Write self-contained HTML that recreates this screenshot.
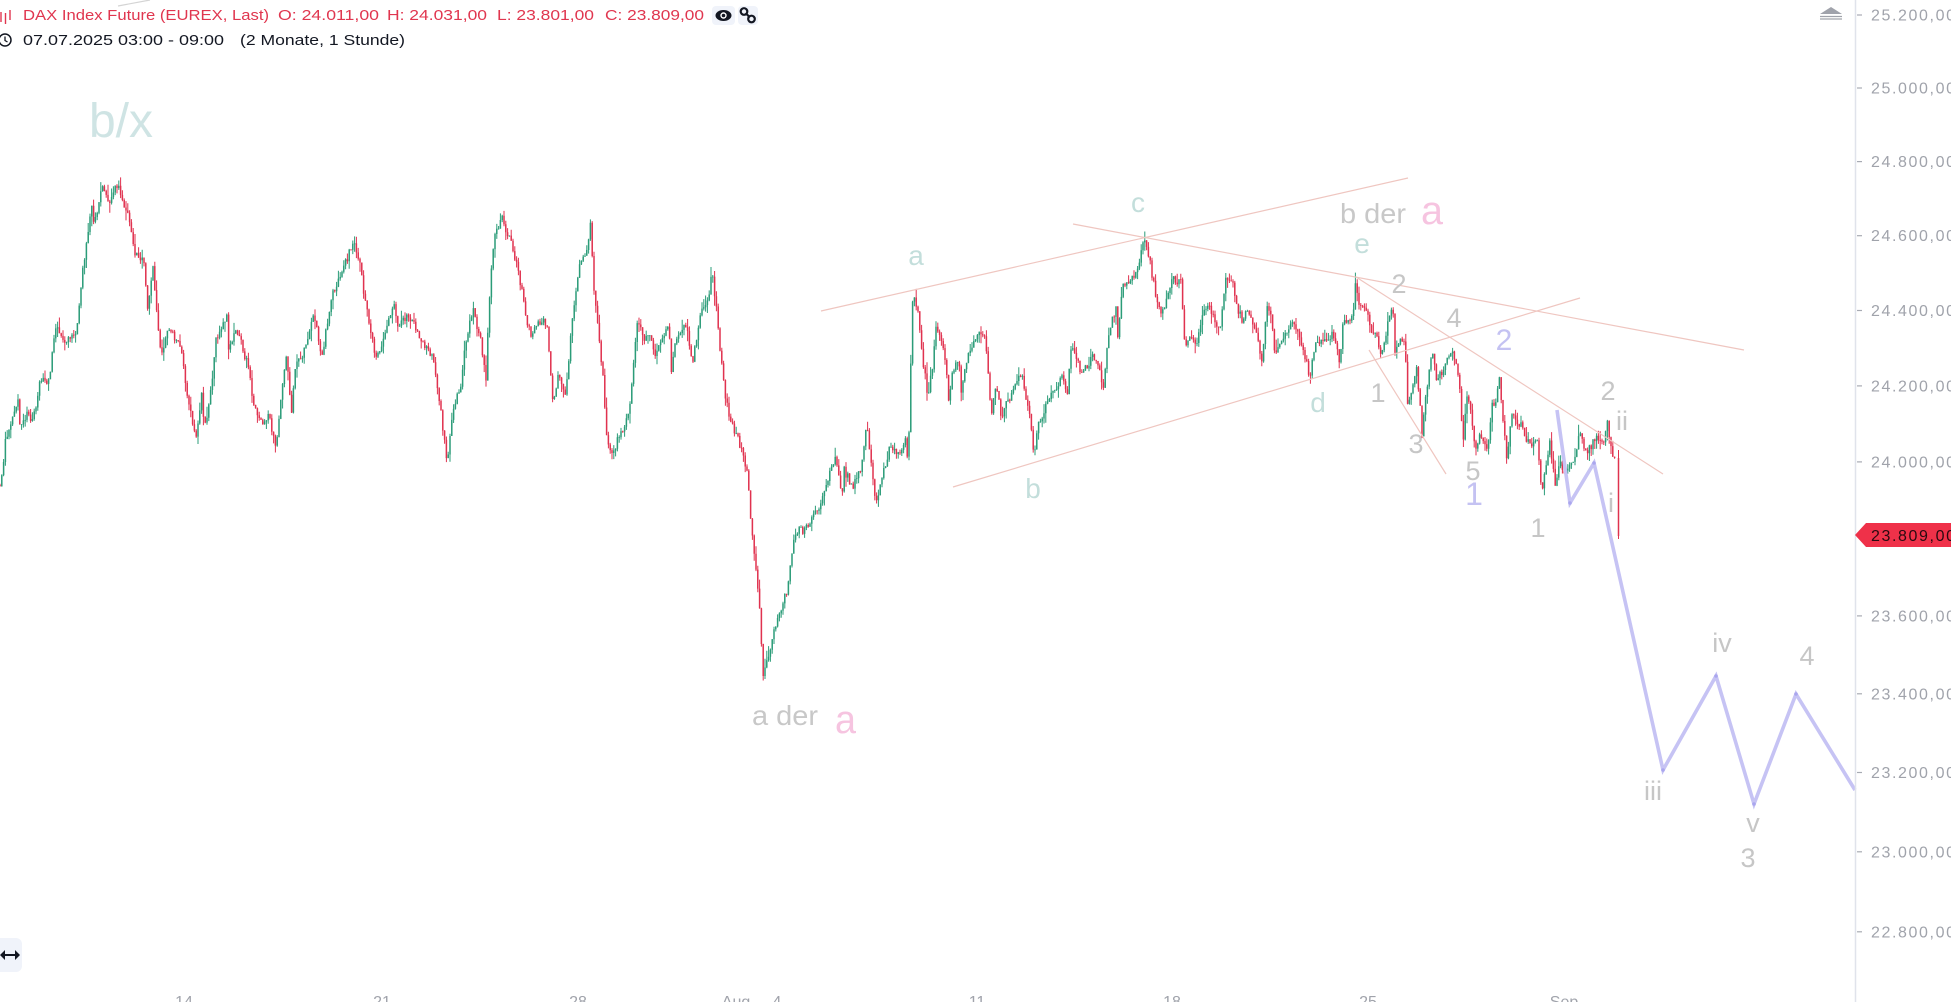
<!DOCTYPE html>
<html><head><meta charset="utf-8">
<style>
html,body{margin:0;padding:0;background:#fff;width:1951px;height:1002px;overflow:hidden;}
svg{display:block;font-family:"Liberation Sans",Arial,sans-serif;}
</style></head><body>
<svg id="s" width="1951" height="1002" viewBox="0 0 1951 1002" xmlns="http://www.w3.org/2000/svg">
<rect width="1951" height="1002" fill="#fff"/>
<g id="candles"></g>

<!-- trend lines -->
<g stroke="#efc6c0" stroke-width="1.2" fill="none">
<line x1="821" y1="311" x2="1408" y2="178"/>
<line x1="953" y1="487" x2="1580" y2="298"/>
<line x1="1073" y1="224" x2="1744" y2="350"/>
<line x1="1356" y1="277" x2="1663" y2="474"/>
<line x1="1369" y1="350" x2="1446" y2="474"/>
</g>
<line x1="118" y1="6" x2="150" y2="0" stroke="#d4d4d4" stroke-width="1.2"/>

<!-- lavender projection -->
<polyline points="1557,410 1570,503 1594,463 1663,770 1716,676 1754,804 1796,694 1855,790" fill="none" stroke="#c6c3f4" stroke-width="3.6" stroke-linejoin="miter"/>
<g fill="#aaa6ee">
<circle cx="1570" cy="503" r="1.8"/><circle cx="1594" cy="463" r="1.8"/><circle cx="1663" cy="770" r="1.8"/><circle cx="1716" cy="676" r="1.8"/><circle cx="1754" cy="804" r="1.8"/><circle cx="1796" cy="694" r="1.8"/>
</g>

<!-- annotation labels -->
<text x="89" y="137" font-size="48" fill="#cfe4e4" textLength="64" lengthAdjust="spacingAndGlyphs">b/x</text>
<g fill="#c3dedb" font-size="28" text-anchor="middle">
<text x="916" y="265">a</text>
<text x="1138" y="212">c</text>
<text x="1033" y="498">b</text>
<text x="1362" y="253">e</text>
<text x="1318" y="412">d</text>
</g>
<g fill="#c6c6c6" font-size="27" text-anchor="middle">
<text x="1399" y="293">2</text>
<text x="1454" y="327">4</text>
<text x="1378" y="402">1</text>
<text x="1416" y="453">3</text>
<text x="1473" y="480">5</text>
<text x="1538" y="537">1</text>
<text x="1608" y="400">2</text>
<text x="1622" y="430">ii</text>
<text x="1611" y="512">i</text>
<text x="1653" y="800">iii</text>
<text x="1722" y="652">iv</text>
<text x="1753" y="832">v</text>
<text x="1748" y="867">3</text>
<text x="1807" y="665">4</text>
</g>
<g fill="#c4c2f2" text-anchor="middle">
<text x="1504" y="350" font-size="30">2</text>
<text x="1474" y="505" font-size="32">1</text>
</g>
<text x="752" y="725" font-size="28" fill="#c8c8c8" textLength="66" lengthAdjust="spacingAndGlyphs">a der</text>
<text x="835" y="733" font-size="40" fill="#f6c4e0" textLength="21" lengthAdjust="spacingAndGlyphs">a</text>
<text x="1340" y="223" font-size="28" fill="#c8c8c8" textLength="66" lengthAdjust="spacingAndGlyphs">b der</text>
<text x="1421" y="224" font-size="40" fill="#f6c4e0" textLength="22" lengthAdjust="spacingAndGlyphs">a</text>

<!-- header -->
<g stroke="#e0364f" stroke-width="1.4">
<line x1="1" y1="12" x2="1" y2="22"/>
<line x1="5.5" y1="13" x2="5.5" y2="24"/>
<line x1="10" y1="10" x2="10" y2="20"/>
</g>
<g fill="#e0364f" font-size="15">
<text x="23" y="20" textLength="246" lengthAdjust="spacingAndGlyphs">DAX Index Future (EUREX, Last)</text>
<text x="278" y="20" textLength="101" lengthAdjust="spacingAndGlyphs">O: 24.011,00</text>
<text x="387" y="20" textLength="100" lengthAdjust="spacingAndGlyphs">H: 24.031,00</text>
<text x="497" y="20" textLength="97" lengthAdjust="spacingAndGlyphs">L: 23.801,00</text>
<text x="605" y="20" textLength="99" lengthAdjust="spacingAndGlyphs">C: 23.809,00</text>
</g>
<rect x="712" y="6" width="23" height="19" rx="4" fill="#f0f3fa"/>
<ellipse cx="723.5" cy="15.5" rx="8" ry="5.5" fill="#131722"/>
<circle cx="723.5" cy="15.5" r="3.2" fill="#fff"/>
<circle cx="723.5" cy="15.5" r="1.8" fill="#131722"/>
<rect x="738" y="6" width="20" height="19" rx="4" fill="#f0f3fa"/>
<g fill="none" stroke="#131722" stroke-width="2.2">
<circle cx="744" cy="11.5" r="3.3"/><circle cx="751.5" cy="19" r="3.3"/>
<line x1="746" y1="13.5" x2="749.5" y2="17"/>
</g>
<circle cx="5" cy="40" r="6" fill="none" stroke="#131722" stroke-width="1.5"/>
<path d="M5 36.5V40.5L7.5 42" fill="none" stroke="#131722" stroke-width="1.3"/>
<g fill="#131722" font-size="15">
<text x="23" y="45" textLength="201" lengthAdjust="spacingAndGlyphs">07.07.2025 03:00 - 09:00</text>
<text x="240" y="45" textLength="165" lengthAdjust="spacingAndGlyphs">(2 Monate, 1 Stunde)</text>
</g>

<!-- bottom-left button -->
<rect x="-12" y="938" width="34" height="34" rx="6" fill="#f0f3fa"/>
<path d="M1 955H19" stroke="#131722" stroke-width="2"/>
<path d="M0 955L5 950V960Z M20 955L15 950V960Z" fill="#131722"/>

<!-- y axis -->
<line x1="1855.5" y1="0" x2="1855.5" y2="1002" stroke="#e0e3eb" stroke-width="1.5"/>
<g id="yaxis" fill="#a0a3ab" font-size="16" letter-spacing="1.6"></g>
<path d="M1820 14L1831 7L1842 14Z" fill="#a0a3ab"/>
<line x1="1820" y1="16.5" x2="1842" y2="16.5" stroke="#a0a3ab" stroke-width="1.2"/>
<line x1="1820" y1="19" x2="1842" y2="19" stroke="#a0a3ab" stroke-width="1.2"/>
<polygon points="1855,535 1866,523 1951,523 1951,547 1866,547" fill="#ef3149"/>
<text x="1871" y="541" font-size="16" letter-spacing="1.6" fill="#2a0a10">23.809,00</text>

<!-- x axis -->
<g fill="#a0a3ab" font-size="16" text-anchor="middle">
<text x="184" y="1007">14</text>
<text x="382" y="1007">21</text>
<text x="578" y="1007">28</text>
<text x="736" y="1007">Aug</text>
<text x="777" y="1007">4</text>
<text x="977" y="1007">11</text>
<text x="1172" y="1007">18</text>
<text x="1368" y="1007">25</text>
<text x="1564" y="1007">Sep</text>
</g>
</svg>
<script>
(function(){
var NS="http://www.w3.org/2000/svg";
var W=[[0,485],[2,475],[6,437],[12,420],[18,397],[20,427],[27,413],[33,420],[41,377],[49,383],[55,327],[65,343],[76,333],[78,323],[82,273],[86,247],[92,203],[94,227],[102,185],[108,203],[118,183],[124,203],[131,227],[135,253],[145,260],[147,315],[153,270],[161,360],[167,327],[180,343],[184,373],[188,403],[196,437],[202,390],[204,433],[212,383],[216,340],[227,317],[229,353],[235,327],[241,343],[249,370],[253,403],[263,423],[269,413],[276,453],[280,403],[286,353],[292,420],[294,370],[302,357],[314,313],[322,360],[331,297],[343,270],[353,243],[359,257],[363,287],[369,323],[376,360],[384,337],[394,303],[398,330],[408,313],[420,337],[433,357],[439,397],[447,460],[453,413],[461,383],[465,343],[473,310],[480,337],[486,377],[490,287],[494,237],[502,218],[510,240],[514,253],[520,280],[527,320],[531,337],[543,317],[547,327],[553,403],[559,370],[565,400],[573,313],[580,263],[588,247],[590,220],[594,287],[598,330],[604,387],[606,437],[612,457],[620,433],
[626,423],[630,400],[634,357],[638,317],[644,343],[649,330],[655,357],[661,337],[669,327],[671,377],[675,343],[685,320],[693,363],[700,313],[708,303],[712,273],[716,303],[720,350],[724,387],[728,410],[734,430],[738,437],[742,453],[747,470],[751,520],[755,563],[759,597],[763,673],[769,653],[773,637],[779,613],[787,590],[791,557],[796,530],[804,530],[812,517],[820,507],[828,480],[836,457],[842,500],[844,470],[853,487],[861,467],[867,423],[871,463],[876,505],[881,483],[889,450],[898,453],[906,440],[908,470],[911,357],[913,290],[918,310],[922,353],[928,397],[932,370],[936,327],[942,340],[947,377],[949,403],[953,370],[959,357],[961,393],[967,357],[975,340],[979,333],[985,337],[989,383],[991,417],[996,383],[1002,423],[1006,403],[1014,390],[1022,370],[1026,397],[1030,417],[1034,460],[1038,423],[1044,413],[1051,390],[1057,387],[1063,373],[1067,397],[1071,350],[1077,357],[1081,377],[1089,363],[1093,353],[1100,373],[1104,393],[1106,357],[1110,327],[1116,310],[1118,340],[1122,287],[1130,280],[1136,273],[1142,250],[1145,238],[1149,257],[1153,280],[1157,303],[1161,317],[1167,300],[1173,273],[1177,287],[1181,277],[1185,350],[1189,337],[1196,347],[1202,320],[1208,303],[1214,320],[1220,330],[1226,280],[1232,277],[1236,303],[1242,320],[1249,310],
[1255,330],[1262,360],[1267,307],[1272,320],[1275,357],[1282,340],[1287,333],[1293,323],[1298,333],[1303,347],[1310,377],[1315,347],[1320,340],[1327,340],[1332,333],[1337,347],[1340,367],[1343,320],[1350,323],[1353,313],[1356,277],[1358,300],[1363,310],[1368,313],[1372,333],[1377,333],[1380,360],[1383,347],[1388,323],[1393,305],[1395,353],[1400,337],[1405,343],[1408,410],[1412,387],[1417,367],[1422,433],[1427,387],[1432,347],[1437,380],[1443,370],[1448,360],[1453,353],[1457,367],[1460,393],[1463,440],[1467,397],[1472,420],[1475,453],[1480,430],[1487,453],[1492,407],[1497,400],[1499,372],[1502,413],[1507,460],[1512,413],[1517,420],[1522,427],[1527,440],[1532,447],[1537,440],[1542,493],[1545,470],[1550,440],[1555,487],[1560,463],[1565,473],[1570,467],[1575,457],[1580,433],[1585,453],[1590,447],[1595,440],[1600,437],[1605,440],[1607,417],[1610,443],[1613,458],[1616,462]];
W.sort(function(a,b){return a[0]-b[0];});
function interp(x){
  if(x<=W[0][0])return W[0][1];
  for(var k=1;k<W.length;k++){
    if(x<=W[k][0]){var a=W[k-1],b=W[k];var d=b[0]-a[0]||1;return a[1]+(x-a[0])/d*(b[1]-a[1]);}
  }
  return W[W.length-1][1];
}
var s=123456789;
function rnd(){s^=s<<13;s^=s>>>17;s^=s<<5;return ((s>>>0)%100000)/100000;}
var gw='',gb='',rw='',rb='';
var step=1.8, prev=interp(0);
var n=Math.floor(1616/step);
function f(v){return v.toFixed(1);}
for(var i=0;i<=n;i++){
  var x=i*step;
  var c=interp(x)+(rnd()-0.5)*8;
  var o=prev;
  var top=Math.min(o,c), bot=Math.max(o,c);
  var hi=top-rnd()*rnd()*12, lo=bot+rnd()*rnd()*12;
  if(bot-top<0.8){bot=top+0.8;}
  var w='M'+f(x)+' '+f(hi)+'V'+f(lo);
  var b='M'+f(x)+' '+f(top)+'V'+f(bot);
  if(c>o){rw+=w;rb+=b;}else{gw+=w;gb+=b;}
  prev=c;
}
var xl=1618.5;
rw+='M'+xl+' 450V539';rb+='M'+xl+' 458V536';
var g=document.getElementById('candles');
function p(d,col,sw){var e=document.createElementNS(NS,'path');e.setAttribute('d',d);e.setAttribute('stroke',col);e.setAttribute('stroke-width',sw);e.setAttribute('fill','none');g.appendChild(e);}
p(gw,'#2b9c78',1);p(rw,'#e0324f',1);p(gb,'#2b9c78',1.5);p(rb,'#e0324f',1.5);
var ya=document.getElementById('yaxis');
var svg=document.getElementById('s');
var prices=[25200,25000,24800,24600,24400,24200,24000,23600,23400,23200,23000,22800];
function fmt(v){var t=String(v);return t.slice(0,2)+'.'+t.slice(2)+',00';}
prices.forEach(function(pr){
  var y=15+9160*Math.log(25200/pr);
  var l=document.createElementNS(NS,'line');
  l.setAttribute('x1','1857');l.setAttribute('x2','1862');l.setAttribute('y1',y.toFixed(1));l.setAttribute('y2',y.toFixed(1));
  l.setAttribute('stroke','#a8abb3');l.setAttribute('stroke-width','1.2');svg.appendChild(l);
  var t=document.createElementNS(NS,'text');
  t.setAttribute('x','1871');t.setAttribute('y',(y+5.5).toFixed(1));t.textContent=fmt(pr);ya.appendChild(t);
});
})();
</script>
</body></html>
